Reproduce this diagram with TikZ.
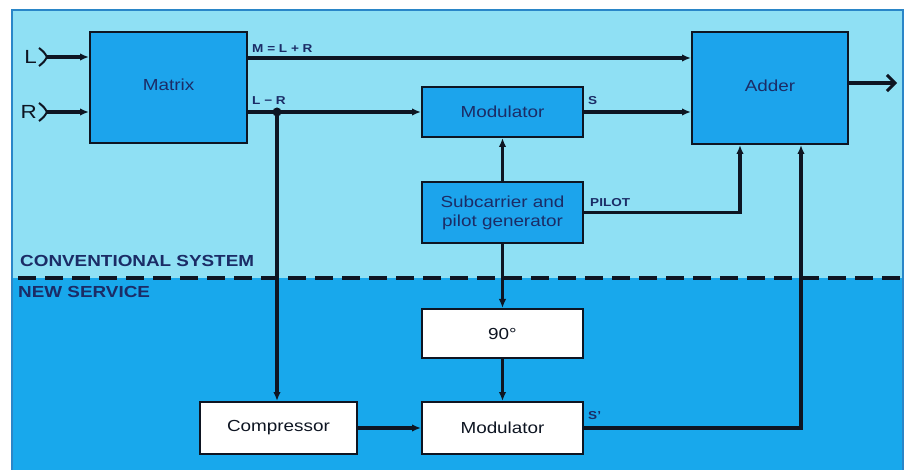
\documentclass[tikz,border=0pt]{standalone}
\usepackage{fontspec}
\setmainfont{Liberation Sans}[FakeStretch=1.18]
\usetikzlibrary{arrows.meta}
\definecolor{topbg}{HTML}{8FE0F4}
\definecolor{botbg}{HTML}{18A8EC}
\definecolor{boxblue}{HTML}{1CA4EC}
\definecolor{navy}{HTML}{1B2C66}
\definecolor{ink}{HTML}{0E1522}
\definecolor{edge}{HTML}{2A86C8}
\tikzset{
  box/.style={draw=ink, line width=2pt, inner sep=0pt, align=center,
    font=\fontsize{16}{19}\selectfont},
  bluebox/.style={box, fill=boxblue, text=navy},
  whitebox/.style={box, fill=white, text=ink},
  conn/.style={draw=ink, line width=3.3pt},
  arr/.style={conn, -{Latex[length=9pt,width=7.5pt]}},
  lbl/.style={text=navy, font=\bfseries\fontsize{11.5}{13}\selectfont, inner sep=0pt},
  sect/.style={text=navy, font=\bfseries\fontsize{16}{18}\selectfont, inner sep=0pt, anchor=base west},
  inlet/.style={text=ink, font=\fontsize{19}{21}\selectfont, inner sep=0pt, anchor=east}
}
\begin{document}
\begin{tikzpicture}[x=1pt,y=-1pt]
\useasboundingbox (0,0) rectangle (913,470);
\fill[white] (0,0) rectangle (913,470);
\fill[topbg] (12,10) rectangle (903,278);
\fill[botbg] (12,278) rectangle (903,470);
\draw[edge, line width=1.5pt] (12,470) -- (12,10) -- (903,10) -- (903,470);

% section divider
\draw[ink, line width=4pt, dash pattern=on 18pt off 9pt] (18,278) -- (900,278);
\node[sect] (conv) at (20,267) {CONVENTIONAL SYSTEM};
\node[sect] (news) at (18,298) {NEW SERVICE};

% blocks
\node[bluebox, minimum width=157pt, minimum height=111pt] (matrix) at (168.5,87.5) {\raisebox{6pt}{Matrix}};
\node[bluebox, minimum width=156pt, minimum height=112pt] (adder) at (770,88) {\raisebox{5pt}{Adder}};
\node[bluebox, minimum width=161pt, minimum height=50pt] (modt) at (502.5,112) {Modulator};
\node[bluebox, minimum width=161pt, minimum height=61pt] (sub) at (502.5,212.5) {Subcarrier and\\pilot generator};
\node[whitebox, minimum width=161pt, minimum height=49pt] (ninety) at (502.5,333.5) {90°};
\node[whitebox, minimum width=161pt, minimum height=52pt] (modb) at (502.5,428) {Modulator};
\node[whitebox, minimum width=157pt, minimum height=52pt] (comp) at (278.5,428) {Compressor};

% inputs
\coordinate (Lc) at (47,57);
\coordinate (Rc) at (47,112);
\node[inlet] (Lt) at (37,57) {L};
\node[inlet] (Rt) at (37,112) {R};
\draw[ink, line width=2pt] (39,48) .. controls (44,52) .. (Lc) .. controls (44,62) .. (39,66);
\draw[ink, line width=2pt] (39,103) .. controls (44,107) .. (Rc) .. controls (44,117) .. (39,121);
\draw[arr] (Lc) -- (matrix.west |- Lc);
\draw[arr] (Rc) -- (matrix.west |- Rc);

% matrix outputs
\coordinate (ym) at (0,58);
\draw[arr] (matrix.east |- ym) -- (adder.west |- ym);
\node[lbl, anchor=south west] (mlbl) at (252,53) {M = L + R};
\draw[arr] (matrix.east |- modt.west) -- (modt.west);
\node[lbl, anchor=south west] (lrlbl) at (252,105) {L − R};
\coordinate (jn) at (277,112);
\fill[ink] (jn) circle (4.5pt);
\draw[arr] (jn) -- (jn |- comp.north);

% top chain
\draw[arr] (modt.east) -- (adder.west |- modt.east);
\node[lbl, anchor=south west] (slbl) at (588,105) {S};
\draw[arr] (sub.north) -- (modt.south);
\draw[arr] (sub.east) -| ([xshift=-30pt]adder.south);
\node[lbl, anchor=south west] (plbl) at (590,207) {PILOT};

% bottom chain
\draw[arr] (sub.south) -- (ninety.north);
\draw[arr] (ninety.south) -- (modb.north);
\draw[arr] (comp.east) -- (modb.west);
\draw[arr] (modb.east) -| ([xshift=31pt]adder.south);
\node[lbl, anchor=south west] (splbl) at (588,420) {S'};

% output
\coordinate (out) at (897,83);
\draw[conn, -{Straight Barb[length=8pt,width=16pt,line width=3pt]}] (adder.east |- out) -- (out);
\end{tikzpicture}
\end{document}
